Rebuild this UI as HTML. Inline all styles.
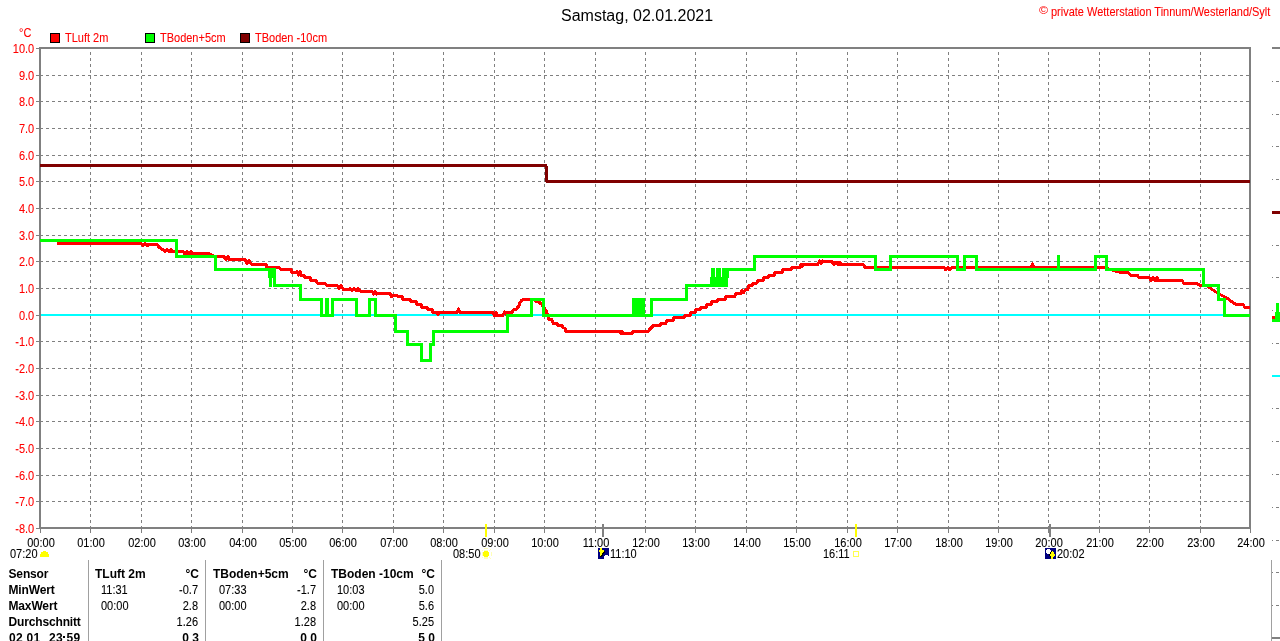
<!DOCTYPE html>
<html><head><meta charset="utf-8"><title>Samstag, 02.01.2021</title>
<style>
html,body{margin:0;padding:0;background:#fff;width:1280px;height:641px;overflow:hidden}
svg{display:block;position:absolute;left:0;top:0;will-change:transform}
text{font-family:"Liberation Sans",sans-serif}
</style></head><body>
<svg width="1280" height="641" viewBox="0 0 1280 641" shape-rendering="crispEdges">
<g stroke="#808080" stroke-width="1" stroke-dasharray="3 3" fill="none"><line x1="90.5" y1="49" x2="90.5" y2="527" stroke-dashoffset="3"/><line x1="141.5" y1="49" x2="141.5" y2="527" stroke-dashoffset="3"/><line x1="191.5" y1="49" x2="191.5" y2="527" stroke-dashoffset="3"/><line x1="242.5" y1="49" x2="242.5" y2="527" stroke-dashoffset="3"/><line x1="292.5" y1="49" x2="292.5" y2="527" stroke-dashoffset="3"/><line x1="342.5" y1="49" x2="342.5" y2="527" stroke-dashoffset="3"/><line x1="393.5" y1="49" x2="393.5" y2="527" stroke-dashoffset="3"/><line x1="443.5" y1="49" x2="443.5" y2="527" stroke-dashoffset="3"/><line x1="494.5" y1="49" x2="494.5" y2="527" stroke-dashoffset="3"/><line x1="544.5" y1="49" x2="544.5" y2="527" stroke-dashoffset="3"/><line x1="595.5" y1="49" x2="595.5" y2="527" stroke-dashoffset="3"/><line x1="645.5" y1="49" x2="645.5" y2="527" stroke-dashoffset="3"/><line x1="695.5" y1="49" x2="695.5" y2="527" stroke-dashoffset="3"/><line x1="746.5" y1="49" x2="746.5" y2="527" stroke-dashoffset="3"/><line x1="796.5" y1="49" x2="796.5" y2="527" stroke-dashoffset="3"/><line x1="847.5" y1="49" x2="847.5" y2="527" stroke-dashoffset="3"/><line x1="897.5" y1="49" x2="897.5" y2="527" stroke-dashoffset="3"/><line x1="948.5" y1="49" x2="948.5" y2="527" stroke-dashoffset="3"/><line x1="998.5" y1="49" x2="998.5" y2="527" stroke-dashoffset="3"/><line x1="1048.5" y1="49" x2="1048.5" y2="527" stroke-dashoffset="3"/><line x1="1099.5" y1="49" x2="1099.5" y2="527" stroke-dashoffset="3"/><line x1="1149.5" y1="49" x2="1149.5" y2="527" stroke-dashoffset="3"/><line x1="1200.5" y1="49" x2="1200.5" y2="527" stroke-dashoffset="3"/><line x1="41" y1="75.5" x2="1249" y2="75.5" stroke-dashoffset="1"/><line x1="41" y1="101.5" x2="1249" y2="101.5" stroke-dashoffset="1"/><line x1="41" y1="128.5" x2="1249" y2="128.5" stroke-dashoffset="1"/><line x1="41" y1="155.5" x2="1249" y2="155.5" stroke-dashoffset="1"/><line x1="41" y1="181.5" x2="1249" y2="181.5" stroke-dashoffset="1"/><line x1="41" y1="208.5" x2="1249" y2="208.5" stroke-dashoffset="1"/><line x1="41" y1="235.5" x2="1249" y2="235.5" stroke-dashoffset="1"/><line x1="41" y1="261.5" x2="1249" y2="261.5" stroke-dashoffset="1"/><line x1="41" y1="288.5" x2="1249" y2="288.5" stroke-dashoffset="1"/><line x1="41" y1="315.5" x2="1249" y2="315.5" stroke-dashoffset="1"/><line x1="41" y1="341.5" x2="1249" y2="341.5" stroke-dashoffset="1"/><line x1="41" y1="368.5" x2="1249" y2="368.5" stroke-dashoffset="1"/><line x1="41" y1="395.5" x2="1249" y2="395.5" stroke-dashoffset="1"/><line x1="41" y1="421.5" x2="1249" y2="421.5" stroke-dashoffset="1"/><line x1="41" y1="448.5" x2="1249" y2="448.5" stroke-dashoffset="1"/><line x1="41" y1="475.5" x2="1249" y2="475.5" stroke-dashoffset="1"/><line x1="41" y1="501.5" x2="1249" y2="501.5" stroke-dashoffset="1"/></g>
<g fill="#808080"><rect x="1272" y="81" width="1" height="1"/><rect x="1276" y="81" width="3" height="1"/><rect x="1272" y="114" width="1" height="1"/><rect x="1276" y="114" width="3" height="1"/><rect x="1272" y="146" width="1" height="1"/><rect x="1276" y="146" width="3" height="1"/><rect x="1272" y="179" width="1" height="1"/><rect x="1276" y="179" width="3" height="1"/><rect x="1272" y="212" width="1" height="1"/><rect x="1276" y="212" width="3" height="1"/><rect x="1272" y="245" width="1" height="1"/><rect x="1276" y="245" width="3" height="1"/><rect x="1272" y="277" width="1" height="1"/><rect x="1276" y="277" width="3" height="1"/><rect x="1272" y="310" width="1" height="1"/><rect x="1276" y="310" width="3" height="1"/><rect x="1272" y="343" width="1" height="1"/><rect x="1276" y="343" width="3" height="1"/><rect x="1272" y="376" width="1" height="1"/><rect x="1276" y="376" width="3" height="1"/><rect x="1272" y="408" width="1" height="1"/><rect x="1276" y="408" width="3" height="1"/><rect x="1272" y="441" width="1" height="1"/><rect x="1276" y="441" width="3" height="1"/><rect x="1272" y="474" width="1" height="1"/><rect x="1276" y="474" width="3" height="1"/><rect x="1272" y="507" width="1" height="1"/><rect x="1276" y="507" width="3" height="1"/><rect x="1272" y="540" width="1" height="1"/><rect x="1276" y="540" width="3" height="1"/><rect x="1272" y="572" width="1" height="1"/><rect x="1276" y="572" width="3" height="1"/><rect x="1272" y="605" width="1" height="1"/><rect x="1276" y="605" width="3" height="1"/><rect x="1272" y="47" width="8" height="2"/><rect x="1272" y="637" width="8" height="2"/></g>
<rect x="1271" y="560" width="1" height="81" fill="#a0a0a0"/>
<rect x="1272" y="375" width="8" height="2" fill="#00ffff"/>
<rect x="1272" y="211" width="8" height="3" fill="#800000"/>
<g fill="#00ff00"><rect x="1276" y="303" width="3" height="10"/><rect x="1275" y="312" width="5" height="10"/><rect x="1272" y="319" width="4" height="3"/></g>
<rect x="1272" y="316" width="3" height="3" fill="#ff0000"/>
<g fill="#808080"><rect x="39" y="47" width="1212" height="2"/><rect x="39" y="527" width="1212" height="2"/><rect x="39" y="47" width="2" height="482"/><rect x="1249" y="47" width="2" height="482"/><rect x="36" y="48" width="3" height="1"/><rect x="36" y="75" width="3" height="1"/><rect x="36" y="101" width="3" height="1"/><rect x="36" y="128" width="3" height="1"/><rect x="36" y="155" width="3" height="1"/><rect x="36" y="181" width="3" height="1"/><rect x="36" y="208" width="3" height="1"/><rect x="36" y="235" width="3" height="1"/><rect x="36" y="261" width="3" height="1"/><rect x="36" y="288" width="3" height="1"/><rect x="36" y="315" width="3" height="1"/><rect x="36" y="341" width="3" height="1"/><rect x="36" y="368" width="3" height="1"/><rect x="36" y="395" width="3" height="1"/><rect x="36" y="421" width="3" height="1"/><rect x="36" y="448" width="3" height="1"/><rect x="36" y="475" width="3" height="1"/><rect x="36" y="501" width="3" height="1"/><rect x="36" y="528" width="3" height="1"/><rect x="40" y="529" width="1" height="4"/><rect x="90" y="529" width="1" height="4"/><rect x="141" y="529" width="1" height="4"/><rect x="191" y="529" width="1" height="4"/><rect x="242" y="529" width="1" height="4"/><rect x="292" y="529" width="1" height="4"/><rect x="342" y="529" width="1" height="4"/><rect x="393" y="529" width="1" height="4"/><rect x="443" y="529" width="1" height="4"/><rect x="494" y="529" width="1" height="4"/><rect x="544" y="529" width="1" height="4"/><rect x="595" y="529" width="1" height="4"/><rect x="645" y="529" width="1" height="4"/><rect x="695" y="529" width="1" height="4"/><rect x="746" y="529" width="1" height="4"/><rect x="796" y="529" width="1" height="4"/><rect x="847" y="529" width="1" height="4"/><rect x="897" y="529" width="1" height="4"/><rect x="948" y="529" width="1" height="4"/><rect x="998" y="529" width="1" height="4"/><rect x="1048" y="529" width="1" height="4"/><rect x="1099" y="529" width="1" height="4"/><rect x="1149" y="529" width="1" height="4"/><rect x="1200" y="529" width="1" height="4"/><rect x="1250" y="529" width="1" height="4"/></g>
<rect x="41" y="314" width="1208" height="2" fill="#00ffff"/>
<path d="M40,165.5 H546 L547,181.5 H1250" stroke="#800000" stroke-width="3" fill="none"/>
<polyline points="57,243.00 141,243.00 141,243.00 143,246.00 145,243.00 147,246.00 148,244.80 157,244.80 160,248.00 163,250.00 163,249.00 165,252.00 167,249.00 169,252.00 171,249.00 171,251.20 183,251.20 183,251.00 185,254.50 187,251.00 189,254.50 191,251.00 191,253.40 209,253.40 214,256.50 224,256.50 224,256.50 226,260.00 228,256.50 229,259.30 245,259.30 245,260.00 247,264.00 249,260.00 251,264.00 252,264.50 266,264.50 267,267.20 279,267.20 281,269.40 291,269.40 292,272.50 297,272.50 297,271.00 298.5,275.00 300.0,271.00 301,275.30 304,275.30 305,277.60 310,277.60 311,280.40 316,280.40 317,283.10 325,283.10 326,285.00 337,285.00 337,285.00 339,289.00 341,285.00 343,289.00 343,289.70 350,289.70 350,288.00 352,291.00 354,288.00 356,291.00 358,288.00 358,290.50 360,290.50 361,291.30 372,291.30 372,291.00 373.5,294.00 375.0,291.00 376.5,294.00 377,293.30 390,293.30 391.5,296.50 393,295.50 402,296.50 403,299.50 410,299.50 411,301.60 416,301.60 417,304.50 421,304.50 422,307.30 427,307.30 428,309.60 432,309.60 433,312.30 437,312.30 438,315.00 439,312.30 457,312.30 458.5,308.80 460,312.30 493,312.60 493,312.60 494.5,315.50 496.0,312.60 497,315.40 503,315.40 503,315.00 504.5,312.00 506.0,315.00 507,312.60 512,312.60 514,309.10 517,309.10 518,306.40 519,306.40 520,302.50 522,300.00 523,299.40 531,299.40 535,299.40 536,301.70 539,301.70 540,303.70 542,303.70 543,306.80 546,310.30 547.5,315.00 549,319.70 552,319.70 553,323.20 557,323.20 558,325.20 562,325.20 563,327.50 565,328.50 566,331.50 620,331.50 620,331.50 621,334.00 622,331.50 623,334.00 623,333.40 632,333.40 633,331.50 648,331.50 650,329.00 653,326.00 653.5,325.50 660,325.50 661,323.20 666,323.20 667,320.50 673,320.50 674,317.30 684,317.30 685,315.40 690,315.40 691,312.70 695,312.70 696,309.50 700,309.50 701,307.60 706,307.60 707,304.50 711,304.50 712,301.70 717,301.70 718,299.40 725,299.40 726,296.25 735,296.25 736,293.50 741,293.50 742,290.80 742,290.80 743.5,292.50 745.0,290.80 746,289.40 748,289.40 749,285.50 752,285.50 753,283.10 757,283.10 758,280.40 763,280.40 764,277.30 768,277.30 769,275.50 774,275.50 775,272.60 782,272.60 783,269.50 791,269.50 792,267.50 800,267.50 800,267.00 801,264.00 802,267.00 803,264.00 803,264.40 818,264.40 818,264.00 819.5,261.00 821.0,264.00 822.5,261.00 823,261.60 832,261.60 832,262.00 834,264.50 836,262.00 838,264.50 840,262.00 840,264.50 863,264.50 865,267.30 944,267.30 944,267.50 946,270.00 948,267.50 950,270.00 952,267.50 953,267.30 1031,267.30 1032.5,264.00 1034,267.30 1105,267.50 1110,269.50 1119,272.00 1128,272.00 1130,275.00 1137,275.00 1139,277.30 1149,277.30 1149,277.00 1151,280.50 1153,277.00 1155,280.50 1157,277.00 1157,280.50 1182,280.50 1184,283.50 1197,283.50 1200,285.50 1207,286.00 1210,288.00 1213,290.00 1216,292.00 1220,294.50 1224,296.50 1227,298.00 1230,300.50 1233,302.50 1236,304.20 1243,304.40 1245,307.50 1250,307.50" stroke="#ff0000" stroke-width="3" fill="none" stroke-linejoin="round"/>
<polyline points="40.0,240.50 176.5,240.50 176.5,256.50 215.5,256.50 215.5,269.50 270.5,269.50" stroke="#00ff00" stroke-width="3" fill="none" stroke-linejoin="miter"/>
<polyline points="274.5,285.50 300.5,285.50 300.5,299.50 321.5,299.50 321.5,315.50 332.5,315.50 332.5,299.50 356.5,299.50 356.5,315.50 369.5,315.50 369.5,299.50 375.5,299.50 375.5,315.50 395.5,315.50 395.5,331.50 407.5,331.50 407.5,344.50 421.5,344.50 421.5,360.50 430.5,360.50 430.5,344.50 433.5,344.50 433.5,331.50 507.5,331.50 507.5,315.50 531.5,315.50 531.5,299.50 543.5,299.50 543.5,315.50 633.5,315.50 633.5,299.50 643.5,299.50 643.5,315.50 651.5,315.50 651.5,299.50 686.5,299.50 686.5,285.50 710.5,285.50" stroke="#00ff00" stroke-width="3" fill="none" stroke-linejoin="miter"/>
<polyline points="728.5,269.50 754.5,269.50 754.5,256.50 875.5,256.50 875.5,269.50 890.5,269.50 890.5,256.50 957.5,256.50 957.5,269.50 964.5,269.50 964.5,256.50 976.5,256.50 976.5,269.50 1095.5,269.50 1095.5,256.50 1106.5,256.50 1106.5,269.50 1203.5,269.50 1203.5,285.50 1218.5,285.50 1218.5,299.50 1224.5,299.50 1224.5,315.50 1250.0,315.50" stroke="#00ff00" stroke-width="3" fill="none" stroke-linejoin="miter"/>
<g fill="#00ff00"><rect x="633" y="298" width="10" height="10"/><rect x="632" y="307" width="12" height="10"/><rect x="268" y="268" width="8" height="10"/><rect x="269" y="277" width="3" height="10"/><rect x="273" y="277" width="3" height="10"/><rect x="325" y="298" width="4" height="18"/><rect x="1057" y="255" width="3" height="13"/><rect x="710" y="277" width="18" height="10"/><rect x="711" y="268" width="4" height="10"/><rect x="716" y="268" width="5" height="10"/><rect x="722" y="268" width="7" height="10"/></g>
<rect x="485" y="524" width="2" height="13" fill="#ffff00"/>
<rect x="855" y="524" width="2" height="13" fill="#ffff00"/>
<rect x="602" y="524" width="2" height="13" fill="#808080"/>
<rect x="1049" y="524" width="2" height="13" fill="#808080"/>
<text x="561" y="21" font-size="16" fill="#000">Samstag, 02.01.2021</text><text transform="translate(1039,14) scale(1.3,1.1)" font-size="9.5" fill="#ff0000">©</text><text transform="translate(1051,16) scale(1,1.13)" font-size="11" fill="#ff0000" stroke="#ff0000" stroke-width="0.08">private Wetterstation Tinnum/Westerland/Sylt</text><text transform="translate(19,37) scale(1,1.13)" font-size="11" fill="#ff0000" stroke="#ff0000" stroke-width="0.08">°C</text><rect x="50.5" y="33.5" width="9" height="9" fill="#ff0000" stroke="#000" stroke-width="1"/><text transform="translate(65,42) scale(1,1.13)" font-size="11" fill="#ff0000" stroke="#ff0000" stroke-width="0.08">TLuft 2m</text><rect x="145.5" y="33.5" width="9" height="9" fill="#00ff00" stroke="#000" stroke-width="1"/><text transform="translate(160,42) scale(1,1.13)" font-size="11" fill="#ff0000" stroke="#ff0000" stroke-width="0.08">TBoden+5cm</text><rect x="240.5" y="33.5" width="9" height="9" fill="#800000" stroke="#000" stroke-width="1"/><text transform="translate(255,42) scale(1,1.13)" font-size="11" fill="#ff0000" stroke="#ff0000" stroke-width="0.08">TBoden -10cm</text><text transform="translate(34.2,53) scale(1,1.13)" font-size="11" fill="#ff0000" stroke="#ff0000" stroke-width="0.08" text-anchor="end">10.0</text><text transform="translate(34.2,80) scale(1,1.13)" font-size="11" fill="#ff0000" stroke="#ff0000" stroke-width="0.08" text-anchor="end">9.0</text><text transform="translate(34.2,106) scale(1,1.13)" font-size="11" fill="#ff0000" stroke="#ff0000" stroke-width="0.08" text-anchor="end">8.0</text><text transform="translate(34.2,133) scale(1,1.13)" font-size="11" fill="#ff0000" stroke="#ff0000" stroke-width="0.08" text-anchor="end">7.0</text><text transform="translate(34.2,160) scale(1,1.13)" font-size="11" fill="#ff0000" stroke="#ff0000" stroke-width="0.08" text-anchor="end">6.0</text><text transform="translate(34.2,186) scale(1,1.13)" font-size="11" fill="#ff0000" stroke="#ff0000" stroke-width="0.08" text-anchor="end">5.0</text><text transform="translate(34.2,213) scale(1,1.13)" font-size="11" fill="#ff0000" stroke="#ff0000" stroke-width="0.08" text-anchor="end">4.0</text><text transform="translate(34.2,240) scale(1,1.13)" font-size="11" fill="#ff0000" stroke="#ff0000" stroke-width="0.08" text-anchor="end">3.0</text><text transform="translate(34.2,266) scale(1,1.13)" font-size="11" fill="#ff0000" stroke="#ff0000" stroke-width="0.08" text-anchor="end">2.0</text><text transform="translate(34.2,293) scale(1,1.13)" font-size="11" fill="#ff0000" stroke="#ff0000" stroke-width="0.08" text-anchor="end">1.0</text><text transform="translate(34.2,320) scale(1,1.13)" font-size="11" fill="#ff0000" stroke="#ff0000" stroke-width="0.08" text-anchor="end">0.0</text><text transform="translate(34.2,346) scale(1,1.13)" font-size="11" fill="#ff0000" stroke="#ff0000" stroke-width="0.08" text-anchor="end">-1.0</text><text transform="translate(34.2,373) scale(1,1.13)" font-size="11" fill="#ff0000" stroke="#ff0000" stroke-width="0.08" text-anchor="end">-2.0</text><text transform="translate(34.2,400) scale(1,1.13)" font-size="11" fill="#ff0000" stroke="#ff0000" stroke-width="0.08" text-anchor="end">-3.0</text><text transform="translate(34.2,426) scale(1,1.13)" font-size="11" fill="#ff0000" stroke="#ff0000" stroke-width="0.08" text-anchor="end">-4.0</text><text transform="translate(34.2,453) scale(1,1.13)" font-size="11" fill="#ff0000" stroke="#ff0000" stroke-width="0.08" text-anchor="end">-5.0</text><text transform="translate(34.2,480) scale(1,1.13)" font-size="11" fill="#ff0000" stroke="#ff0000" stroke-width="0.08" text-anchor="end">-6.0</text><text transform="translate(34.2,506) scale(1,1.13)" font-size="11" fill="#ff0000" stroke="#ff0000" stroke-width="0.08" text-anchor="end">-7.0</text><text transform="translate(34.2,533) scale(1,1.13)" font-size="11" fill="#ff0000" stroke="#ff0000" stroke-width="0.08" text-anchor="end">-8.0</text><text transform="translate(41,547) scale(1,1.13)" font-size="11" fill="#000" stroke="#000" stroke-width="0.08" text-anchor="middle">00:00</text><text transform="translate(91,547) scale(1,1.13)" font-size="11" fill="#000" stroke="#000" stroke-width="0.08" text-anchor="middle">01:00</text><text transform="translate(142,547) scale(1,1.13)" font-size="11" fill="#000" stroke="#000" stroke-width="0.08" text-anchor="middle">02:00</text><text transform="translate(192,547) scale(1,1.13)" font-size="11" fill="#000" stroke="#000" stroke-width="0.08" text-anchor="middle">03:00</text><text transform="translate(243,547) scale(1,1.13)" font-size="11" fill="#000" stroke="#000" stroke-width="0.08" text-anchor="middle">04:00</text><text transform="translate(293,547) scale(1,1.13)" font-size="11" fill="#000" stroke="#000" stroke-width="0.08" text-anchor="middle">05:00</text><text transform="translate(343,547) scale(1,1.13)" font-size="11" fill="#000" stroke="#000" stroke-width="0.08" text-anchor="middle">06:00</text><text transform="translate(394,547) scale(1,1.13)" font-size="11" fill="#000" stroke="#000" stroke-width="0.08" text-anchor="middle">07:00</text><text transform="translate(444,547) scale(1,1.13)" font-size="11" fill="#000" stroke="#000" stroke-width="0.08" text-anchor="middle">08:00</text><text transform="translate(495,547) scale(1,1.13)" font-size="11" fill="#000" stroke="#000" stroke-width="0.08" text-anchor="middle">09:00</text><text transform="translate(545,547) scale(1,1.13)" font-size="11" fill="#000" stroke="#000" stroke-width="0.08" text-anchor="middle">10:00</text><text transform="translate(596,547) scale(1,1.13)" font-size="11" fill="#000" stroke="#000" stroke-width="0.08" text-anchor="middle">11:00</text><text transform="translate(646,547) scale(1,1.13)" font-size="11" fill="#000" stroke="#000" stroke-width="0.08" text-anchor="middle">12:00</text><text transform="translate(696,547) scale(1,1.13)" font-size="11" fill="#000" stroke="#000" stroke-width="0.08" text-anchor="middle">13:00</text><text transform="translate(747,547) scale(1,1.13)" font-size="11" fill="#000" stroke="#000" stroke-width="0.08" text-anchor="middle">14:00</text><text transform="translate(797,547) scale(1,1.13)" font-size="11" fill="#000" stroke="#000" stroke-width="0.08" text-anchor="middle">15:00</text><text transform="translate(848,547) scale(1,1.13)" font-size="11" fill="#000" stroke="#000" stroke-width="0.08" text-anchor="middle">16:00</text><text transform="translate(898,547) scale(1,1.13)" font-size="11" fill="#000" stroke="#000" stroke-width="0.08" text-anchor="middle">17:00</text><text transform="translate(949,547) scale(1,1.13)" font-size="11" fill="#000" stroke="#000" stroke-width="0.08" text-anchor="middle">18:00</text><text transform="translate(999,547) scale(1,1.13)" font-size="11" fill="#000" stroke="#000" stroke-width="0.08" text-anchor="middle">19:00</text><text transform="translate(1049,547) scale(1,1.13)" font-size="11" fill="#000" stroke="#000" stroke-width="0.08" text-anchor="middle">20:00</text><text transform="translate(1100,547) scale(1,1.13)" font-size="11" fill="#000" stroke="#000" stroke-width="0.08" text-anchor="middle">21:00</text><text transform="translate(1150,547) scale(1,1.13)" font-size="11" fill="#000" stroke="#000" stroke-width="0.08" text-anchor="middle">22:00</text><text transform="translate(1201,547) scale(1,1.13)" font-size="11" fill="#000" stroke="#000" stroke-width="0.08" text-anchor="middle">23:00</text><text transform="translate(1251,547) scale(1,1.13)" font-size="11" fill="#000" stroke="#000" stroke-width="0.08" text-anchor="middle">24:00</text><text transform="translate(10,558) scale(1,1.13)" font-size="11" fill="#000" stroke="#000" stroke-width="0.08">07:20</text><text transform="translate(453,558) scale(1,1.13)" font-size="11" fill="#000" stroke="#000" stroke-width="0.08">08:50</text><text transform="translate(610,558) scale(1,1.13)" font-size="11" fill="#000" stroke="#000" stroke-width="0.08">11:10</text><text transform="translate(823,558) scale(1,1.13)" font-size="11" fill="#000" stroke="#000" stroke-width="0.08">16:11</text><text transform="translate(1057,558) scale(1,1.13)" font-size="11" fill="#000" stroke="#000" stroke-width="0.08">20:02</text>
<g fill="#ffff00"><rect x="43" y="551" width="3" height="1"/><rect x="41" y="552" width="7" height="2"/><rect x="40" y="554" width="9" height="3"/></g>
<g fill="#ffffb8"><rect x="484" y="548" width="4" height="1"/><rect x="482" y="550" width="1" height="1"/><rect x="490" y="549" width="1" height="1"/><rect x="491" y="552" width="1" height="1"/><rect x="491" y="553" width="1" height="1"/><rect x="491" y="554" width="1" height="1"/><rect x="491" y="555" width="1" height="1"/><rect x="482" y="557" width="1" height="1"/><rect x="490" y="558" width="1" height="1"/><rect x="484" y="558" width="4" height="1"/><rect x="484" y="550" width="4" height="1"/><rect x="484" y="557" width="4" height="1"/><rect x="482" y="552" width="1" height="1"/><rect x="482" y="553" width="1" height="1"/><rect x="482" y="554" width="1" height="1"/><rect x="482" y="555" width="1" height="1"/><rect x="489" y="550" width="1" height="1"/><rect x="489" y="557" width="1" height="1"/></g>
<g fill="#ffff00"><rect x="484" y="551" width="4" height="1"/><rect x="483" y="552" width="6" height="1"/><rect x="483" y="553" width="6" height="1"/><rect x="483" y="554" width="6" height="1"/><rect x="483" y="555" width="6" height="1"/><rect x="484" y="556" width="4" height="1"/></g>
<rect x="598" y="548" width="11" height="11" fill="#000080"/>
<g fill="#000000"><rect x="602" y="553" width="2" height="1"/><rect x="602" y="554" width="1" height="1"/><rect x="601" y="555" width="2" height="1"/><rect x="600" y="556" width="2" height="1"/><rect x="604" y="551" width="1" height="1"/><rect x="603" y="552" width="2" height="1"/></g>
<g fill="#ffff00"><rect x="600" y="548" width="2" height="1"/><rect x="600" y="549" width="2" height="1"/><rect x="599" y="550" width="5" height="1"/><rect x="599" y="551" width="5" height="1"/><rect x="600" y="552" width="3" height="1"/><rect x="600" y="553" width="2" height="1"/><rect x="600" y="554" width="2" height="1"/><rect x="600" y="555" width="1" height="1"/></g>
<g fill="#ffffff"><rect x="605" y="555" width="3" height="1"/><rect x="604" y="556" width="5" height="1"/><rect x="604" y="557" width="5" height="1"/><rect x="604" y="558" width="5" height="1"/></g>
<rect x="853.5" y="551.5" width="5" height="5" fill="none" stroke="#ffff50" stroke-width="1"/>
<rect x="1045" y="548" width="11" height="11" fill="#000080"/>
<g fill="#ffffff"><rect x="1047" y="549" width="3" height="1"/><rect x="1046" y="550" width="5" height="1"/><rect x="1046" y="551" width="5" height="1"/><rect x="1046" y="552" width="5" height="1"/><rect x="1047" y="553" width="3" height="1"/></g>
<g fill="#000000"><rect x="1051" y="551" width="1" height="1"/><rect x="1050" y="552" width="1" height="1"/><rect x="1050" y="553" width="1" height="1"/><rect x="1049" y="554" width="1" height="1"/><rect x="1049" y="555" width="1" height="1"/><rect x="1050" y="556" width="1" height="1"/><rect x="1050" y="557" width="1" height="1"/></g>
<g fill="#ffff00"><rect x="1052" y="551" width="1" height="1"/><rect x="1051" y="552" width="3" height="1"/><rect x="1051" y="553" width="3" height="1"/><rect x="1050" y="554" width="5" height="1"/><rect x="1050" y="555" width="5" height="1"/><rect x="1051" y="556" width="3" height="1"/><rect x="1051" y="557" width="2" height="1"/><rect x="1051" y="558" width="2" height="1"/></g>
<rect x="88" y="560" width="1" height="81" fill="#a0a0a0"/><rect x="205" y="560" width="1" height="81" fill="#a0a0a0"/><rect x="323" y="560" width="1" height="81" fill="#a0a0a0"/><rect x="441" y="560" width="1" height="81" fill="#a0a0a0"/><text x="8.5" y="578" font-size="12" font-weight="bold" letter-spacing="-0.15">Sensor</text><text x="8.5" y="594" font-size="12" font-weight="bold" letter-spacing="-0.15">MinWert</text><text x="8.5" y="610" font-size="12" font-weight="bold" letter-spacing="-0.15">MaxWert</text><text x="8.5" y="626" font-size="12" font-weight="bold" letter-spacing="-0.15">Durchschnitt</text><text x="9" y="642" font-size="12" font-weight="bold" letter-spacing="0.3">02</text><text x="26.57" y="642" font-size="12" font-weight="bold" letter-spacing="0.3">01</text><text x="49" y="642" font-size="12" font-weight="bold" letter-spacing="0.3">23</text><text x="66.57" y="642" font-size="12" font-weight="bold" letter-spacing="0.3">59</text><rect x="63" y="636" width="2" height="2" fill="#000"/><text x="95" y="578" font-size="12" font-weight="bold">TLuft 2m</text><text x="199" y="578" font-size="12" font-weight="bold" text-anchor="end">°C</text><text transform="translate(101,594) scale(1,1.13)" font-size="11" fill="#000" stroke="#000" stroke-width="0.08">11:31</text><text transform="translate(198,594) scale(1,1.13)" font-size="11" fill="#000" stroke="#000" stroke-width="0.08" text-anchor="end">-0.7</text><text transform="translate(101,610) scale(1,1.13)" font-size="11" fill="#000" stroke="#000" stroke-width="0.08">00:00</text><text transform="translate(198,610) scale(1,1.13)" font-size="11" fill="#000" stroke="#000" stroke-width="0.08" text-anchor="end">2.8</text><text transform="translate(198,626) scale(1,1.13)" font-size="11" fill="#000" stroke="#000" stroke-width="0.08" text-anchor="end">1.26</text><text x="199" y="642" font-size="12" font-weight="bold" text-anchor="end">3</text><text x="189" y="642" font-size="12" font-weight="bold" text-anchor="end">0</text><text x="213" y="578" font-size="12" font-weight="bold">TBoden+5cm</text><text x="317" y="578" font-size="12" font-weight="bold" text-anchor="end">°C</text><text transform="translate(219,594) scale(1,1.13)" font-size="11" fill="#000" stroke="#000" stroke-width="0.08">07:33</text><text transform="translate(316,594) scale(1,1.13)" font-size="11" fill="#000" stroke="#000" stroke-width="0.08" text-anchor="end">-1.7</text><text transform="translate(219,610) scale(1,1.13)" font-size="11" fill="#000" stroke="#000" stroke-width="0.08">00:00</text><text transform="translate(316,610) scale(1,1.13)" font-size="11" fill="#000" stroke="#000" stroke-width="0.08" text-anchor="end">2.8</text><text transform="translate(316,626) scale(1,1.13)" font-size="11" fill="#000" stroke="#000" stroke-width="0.08" text-anchor="end">1.28</text><text x="317" y="642" font-size="12" font-weight="bold" text-anchor="end">0</text><text x="307" y="642" font-size="12" font-weight="bold" text-anchor="end">0</text><text x="331" y="578" font-size="12" font-weight="bold">TBoden -10cm</text><text x="435" y="578" font-size="12" font-weight="bold" text-anchor="end">°C</text><text transform="translate(337,594) scale(1,1.13)" font-size="11" fill="#000" stroke="#000" stroke-width="0.08">10:03</text><text transform="translate(434,594) scale(1,1.13)" font-size="11" fill="#000" stroke="#000" stroke-width="0.08" text-anchor="end">5.0</text><text transform="translate(337,610) scale(1,1.13)" font-size="11" fill="#000" stroke="#000" stroke-width="0.08">00:00</text><text transform="translate(434,610) scale(1,1.13)" font-size="11" fill="#000" stroke="#000" stroke-width="0.08" text-anchor="end">5.6</text><text transform="translate(434,626) scale(1,1.13)" font-size="11" fill="#000" stroke="#000" stroke-width="0.08" text-anchor="end">5.25</text><text x="435" y="642" font-size="12" font-weight="bold" text-anchor="end">0</text><text x="425" y="642" font-size="12" font-weight="bold" text-anchor="end">5</text>
</svg>
</body></html>
